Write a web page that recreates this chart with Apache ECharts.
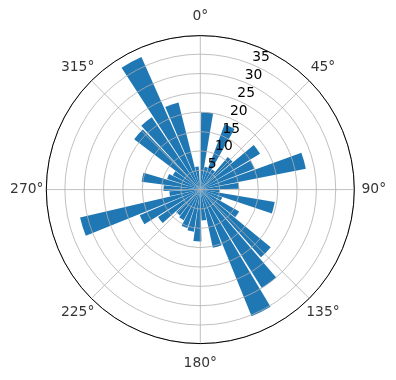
<!DOCTYPE html>
<html>
<head>
<meta charset="utf-8">
<script src="https://cdn.jsdelivr.net/npm/echarts@6/dist/echarts.min.js"></script>
<style>
html,body{margin:0;padding:0;background:#fff;}
#chart{width:396px;height:380px;}
</style>
</head>
<body>
<div id="chart"></div>
<script>
// Bar directions (degrees, clockwise from north) and bar lengths
var barAngles = [5.1, 15.0, 24.9, 34.8, 44.7, 54.6, 64.5, 74.4, 84.3, 94.1, 104.0, 113.9,
                 123.8, 133.7, 143.6, 153.5, 163.4, 173.3, 183.2, 193.1, 203.0, 212.9, 222.8, 232.7,
                 242.6, 252.5, 262.4, 272.2, 282.1, 292.0, 301.9, 311.8, 321.7, 331.6, 341.5, 351.4];
var barValues = [20, 6, 18, 6, 11, 18, 15, 27.8, 10, 5, 19.5, 6,
                 11.5, 23.5, 30, 35.3, 15.4, 8, 13.4, 11, 10.5, 9, 8.5, 13,
                 17, 31.9, 8, 9.5, 15.3, 9, 8, 21.5, 22.5, 37.5, 23.2, 6];
var angleTicks = [0, 45, 90, 135, 180, 225, 270, 315];
var radiusTicks = [5, 10, 15, 20, 25, 30, 35];
var rMax = 39.8;

var FONT = 'DejaVu Sans';
var FS = 13.89;
var center = [200.3, 189.6];
var R = 154;
var R_LABEL = R + 19.5;

var chart = echarts.init(document.getElementById('chart'), null, {renderer: 'canvas'});
var data = barValues.map(function (v, i) { return [v, barAngles[i]]; });
var labelData = angleTicks.map(function (a) { return {name: a + '°', value: [1, a]}; });

function hiddenAngle(idx, start) {
  return {
    polarIndex: idx, type: 'value', min: 0, max: 360,
    startAngle: start, clockwise: true,
    axisLine: {show: false}, axisTick: {show: false}, splitLine: {show: false}, axisLabel: {show: false}
  };
}
function hiddenRadius(idx, max) {
  return {
    polarIndex: idx, type: 'value', min: 0, max: max,
    axisLine: {show: false}, axisTick: {show: false}, axisLabel: {show: false}, splitLine: {show: false}
  };
}

var option = {
  animation: false,
  backgroundColor: '#fff',
  polar: [
    {center: center, radius: R},
    {center: center, radius: R},
    {center: center, radius: R},
    {center: center, radius: R_LABEL}
  ],
  angleAxis: [
    { // grid
      polarIndex: 0, type: 'value', min: 0, max: 360, interval: 45,
      startAngle: 90, clockwise: true, z: 10,
      axisLine: {show: true, lineStyle: {color: '#000', width: 1}},
      axisTick: {show: false},
      splitLine: {show: true, lineStyle: {color: '#b0b0b0', width: 0.8}},
      axisLabel: {show: false}
    },
    hiddenAngle(1, 90),
    hiddenAngle(2, 67.5),
    hiddenAngle(3, 90)
  ],
  radiusAxis: [
    {
      polarIndex: 0, type: 'value', min: 0, max: rMax, interval: 5, z: 10,
      axisLine: {show: false}, axisTick: {show: false}, axisLabel: {show: false},
      splitLine: {show: true, lineStyle: {color: '#b0b0b0', width: 0.8}}
    },
    hiddenRadius(1, rMax),
    {
      polarIndex: 2, type: 'value', min: 0, max: rMax, interval: 5, z: 11,
      axisLine: {show: false}, axisTick: {show: false}, splitLine: {show: false},
      axisLabel: {
        show: true, margin: 0, color: '#000', fontFamily: FONT, fontSize: FS,
        align: 'left', verticalAlign: 'bottom', showMinLabel: false, showMaxLabel: false,
        formatter: function (v) { return radiusTicks.indexOf(v) >= 0 ? String(v) : ''; }
      }
    },
    hiddenRadius(3, 1)
  ],
  series: [{
    type: 'bar',
    coordinateSystem: 'polar',
    polarIndex: 1,
    data: data,
    barWidth: '89%',
    itemStyle: {color: '#1f77b4'},
    z: 2
  }, {
    type: 'scatter',
    coordinateSystem: 'polar',
    polarIndex: 3,
    data: labelData,
    symbol: 'circle',
    symbolSize: 1,
    itemStyle: {color: 'rgba(0,0,0,0)'},
    silent: true,
    z: 12,
    label: {
      show: true, position: 'inside', formatter: '{b}',
      color: '#000', fontFamily: FONT, fontSize: FS,
      align: 'center', verticalAlign: 'middle'
    }
  }]
};
chart.setOption(option);
</script>
</body>
</html>
